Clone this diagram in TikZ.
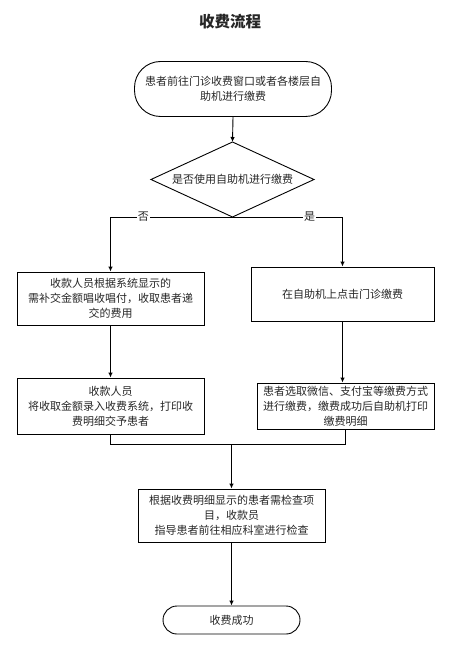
\documentclass[tikz,border=0pt]{standalone}
\usepackage{fontspec}
\setmainfont{Noto Sans CJK SC}
\usetikzlibrary{arrows.meta}
\begin{document}
\begin{tikzpicture}[x=1pt,y=-1pt,
  every node/.style={font=\fontsize{11}{15}\selectfont, text=black!85, align=center, inner sep=0pt},
  box/.style={draw, line width=0.9pt, rectangle},
  term/.style={draw, line width=0.9pt, rectangle, rounded corners=#1},
  conn/.style={line width=0.9pt},
  arr/.style={line width=0.9pt, -{Latex[length=5pt,width=4.5pt]}},
  lbl/.style={fill=white, inner sep=1pt}
]
\useasboundingbox (0,0) rectangle (452,652);
\node[font=\fontsize{15.5}{18}\selectfont\bfseries] (title) at (230,22) {收费流程};
\node[term=26pt, minimum width=197pt, minimum height=55pt] (start) at (233,89) {患者前往门诊收费窗口或者各楼层自\\助机进行缴费};
% decision diamond
\node (dec) at (232.5,179.5) {是否使用自助机进行缴费};
\coordinate (dtop) at (232.5,142);
\coordinate (dbot) at (232.5,217);
\coordinate (dlft) at (151,179.5);
\coordinate (drgt) at (314,179.5);
\draw[conn, line join=miter] (dtop) -- (drgt) -- (dbot) -- (dlft) -- cycle;
\node[box, minimum width=187pt, minimum height=53pt] (l1) at (110.5,298.5) {收款人员根据系统显示的\\需补交金额唱收唱付，收取患者递\\交的费用};
\node[box, minimum width=187pt, minimum height=56pt] (l2) at (110.5,406) {收款人员\\将收取金额录入收费系统，打印收\\费明细交予患者};
\node[box, minimum width=183pt, minimum height=54pt] (r1) at (342.5,294) {在自助机上点击门诊缴费};
\node[box, minimum width=177pt, minimum height=46pt] (r2) at (345.5,406) {患者选取微信、支付宝等缴费方式\\进行缴费，缴费成功后自助机打印\\缴费明细};
\node[box, minimum width=187pt, minimum height=53pt] (b) at (231.5,515.5) {根据收费明细显示的患者需检查项\\目，收款员\\指导患者前往相应科室进行检查};
\node[term=14pt, minimum width=137pt, minimum height=28pt] (end) at (231.5,620) {收费成功};

\coordinate (bl) at (dbot -| l1.north);
\coordinate (br) at (dbot -| r1.north);
\coordinate (ml) at (110.5,444);
\coordinate (mr) at (345.5,444);
\coordinate (mc) at (231.5,444);

\draw[arr] (start.south) -- (dtop);
\draw[conn] (dbot) -- (bl) node[lbl, pos=0.73] (no) {否};
\draw[conn] (dbot) -- (br) node[lbl, pos=0.7] (yes) {是};
\draw[arr] (bl) -- (l1.north);
\draw[arr] (br) -- (r1.north);
\draw[arr] (l1.south) -- (l2.north);
\draw[arr] (r1.south) -- (r1.south |- r2.north);
\draw[conn] (l2.south) -- (ml) -- (mr) -- (r2.south);
\draw[arr] (mc) -- (b.north);
\draw[arr] (b.south) -- (end.north);
\end{tikzpicture}
\end{document}
